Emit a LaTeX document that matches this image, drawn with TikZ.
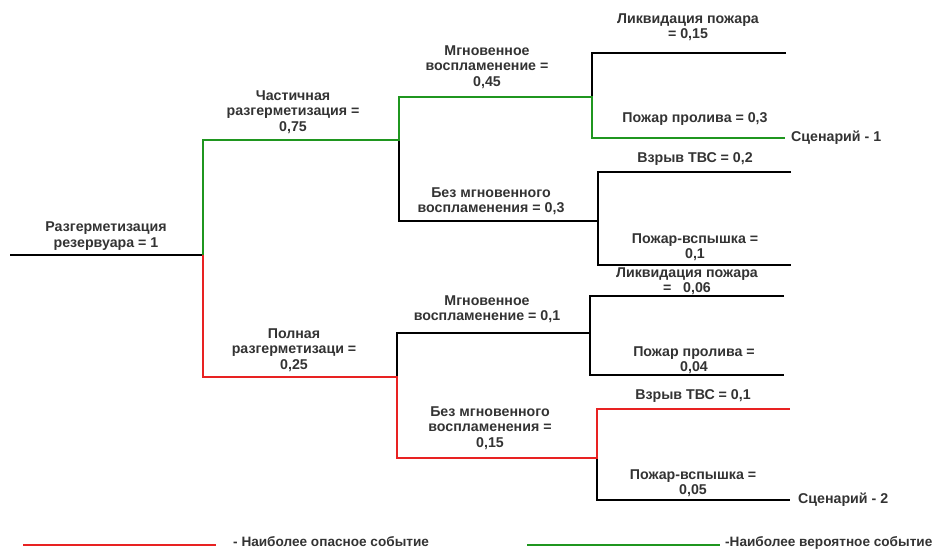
\documentclass[tikz,border=0pt]{standalone}
\usepackage{fontspec}
\setmainfont{Liberation Sans}
\definecolor{txt}{HTML}{333333}
\definecolor{grn}{HTML}{1F961F}
\definecolor{rd}{HTML}{E82222}
\begin{document}
\begin{tikzpicture}[x=1pt,y=-1pt,
  lbl/.style={align=center,inner sep=0pt,text=txt,font=\fontsize{14.2}{15.5}\selectfont\bfseries},
  leg/.style={anchor=base west,inner sep=0pt,text=txt,font=\fontsize{13.6}{15.5}\selectfont\bfseries},
  blk/.style={draw=black,line width=1.8pt,line join=miter},
  gr/.style={draw=grn,line width=1.8pt,line join=miter},
  re/.style={draw=rd,line width=1.8pt,line join=miter}]
\useasboundingbox (0,0) rectangle (944,550);
% junctions
\coordinate (root) at (10,255);
\coordinate (j1) at (203,255);
\coordinate (j1u) at (203,140);
\coordinate (j1d) at (203,377);
\coordinate (j2) at (399,140);
\coordinate (j2u) at (399,97);
\coordinate (j2d) at (399,221);
\coordinate (j3) at (592,97);
\coordinate (j3u) at (592,53);
\coordinate (j3d) at (592,138);
\coordinate (e1) at (786,53);
\coordinate (e2) at (785,138);
\coordinate (j4) at (598,221);
\coordinate (j4u) at (598,172);
\coordinate (j4d) at (598,265);
\coordinate (e3) at (791,172);
\coordinate (e4) at (791,265);
\coordinate (j5) at (397,377);
\coordinate (j5u) at (397,333);
\coordinate (j5d) at (397,458);
\coordinate (j6) at (590,333);
\coordinate (j6u) at (590,296);
\coordinate (j6d) at (590,375);
\coordinate (e5) at (784,296);
\coordinate (e6) at (784,375);
\coordinate (j7) at (597,458);
\coordinate (j7u) at (597,409);
\coordinate (j7d) at (597,500);
\coordinate (e7) at (790,409);
\coordinate (e8) at (790,500);
% black branches
\draw[blk] (root) -- (j1);
\draw[blk] (j2) -- (j2d) -- (j4);
\draw[blk] (e1) -- (j3u) -- (j3);
\draw[blk] (e3) -- (j4u) -- (j4d) -- (e4);
\draw[blk] (j5) -- (j5u) -- (j6);
\draw[blk] (e5) -- (j6u) -- (j6d) -- (e6);
\draw[blk] (j7) -- (j7d) -- (e8);
% most probable (green)
\draw[gr] (j1) -- (j1u) -- (j2) -- (j2u) -- (j3) -- (j3d) -- (e2);
% most dangerous (red)
\draw[re] (j1) -- (j1d) -- (j5) -- (j5d) -- (j7) -- (j7u) -- (e7);
% labels
\node[lbl] (l0) at (106,236) {Разгерметизация\\резервуара = 1};
\node[lbl] (l1) at (293,112) {Частичная\\разгерметизация =\\0,75};
\node[lbl] (l2) at (294,350) {Полная\\разгерметизаци =\\0,25};
\node[lbl] (l3) at (487,67) {Мгновенное\\воспламенение =\\0,45};
\node[lbl] (l4) at (491,201) {Без мгновенного\\воспламенения = 0,3};
\node[lbl] (l5) at (688,27) {Ликвидация пожара\\= 0,15};
\node[lbl] (l6) at (695,119) {Пожар пролива = 0,3};
\node[lbl] (l7) at (695,159) {Взрыв ТВС = 0,2};
\node[lbl] (l8) at (695,247) {Пожар-вспышка =\\0,1};
\node[lbl] (l9) at (487,309) {Мгновенное\\воспламенение = 0,1};
\node[lbl] (l10) at (490,428) {Без мгновенного\\воспламенения =\\0,15};
\node[lbl] (l11) at (687,281) {Ликвидация пожара\\=\ \ \ 0,06};
\node[lbl] (l12) at (694,360) {Пожар пролива =\\0,04};
\node[lbl] (l13) at (693,396) {Взрыв ТВС = 0,1};
\node[lbl] (l14) at (693,483) {Пожар-вспышка =\\0,05};
\node[lbl,anchor=west] (s1) at (791,138) {Сценарий - 1};
\node[lbl,anchor=west] (s2) at (798,500) {Сценарий - 2};
% legend
\coordinate (lr1) at (23,545);
\coordinate (lr2) at (216,545);
\coordinate (lg1) at (527,545);
\coordinate (lg2) at (720,545);
\draw[re] (lr1) -- (lr2);
\draw[gr] (lg1) -- (lg2);
\node[leg] (t1) at (233,546.5) {- Наиболее опасное событие};
\node[leg] (t2) at (725,546.5) {-Наиболее вероятное событие};
\end{tikzpicture}
\end{document}
